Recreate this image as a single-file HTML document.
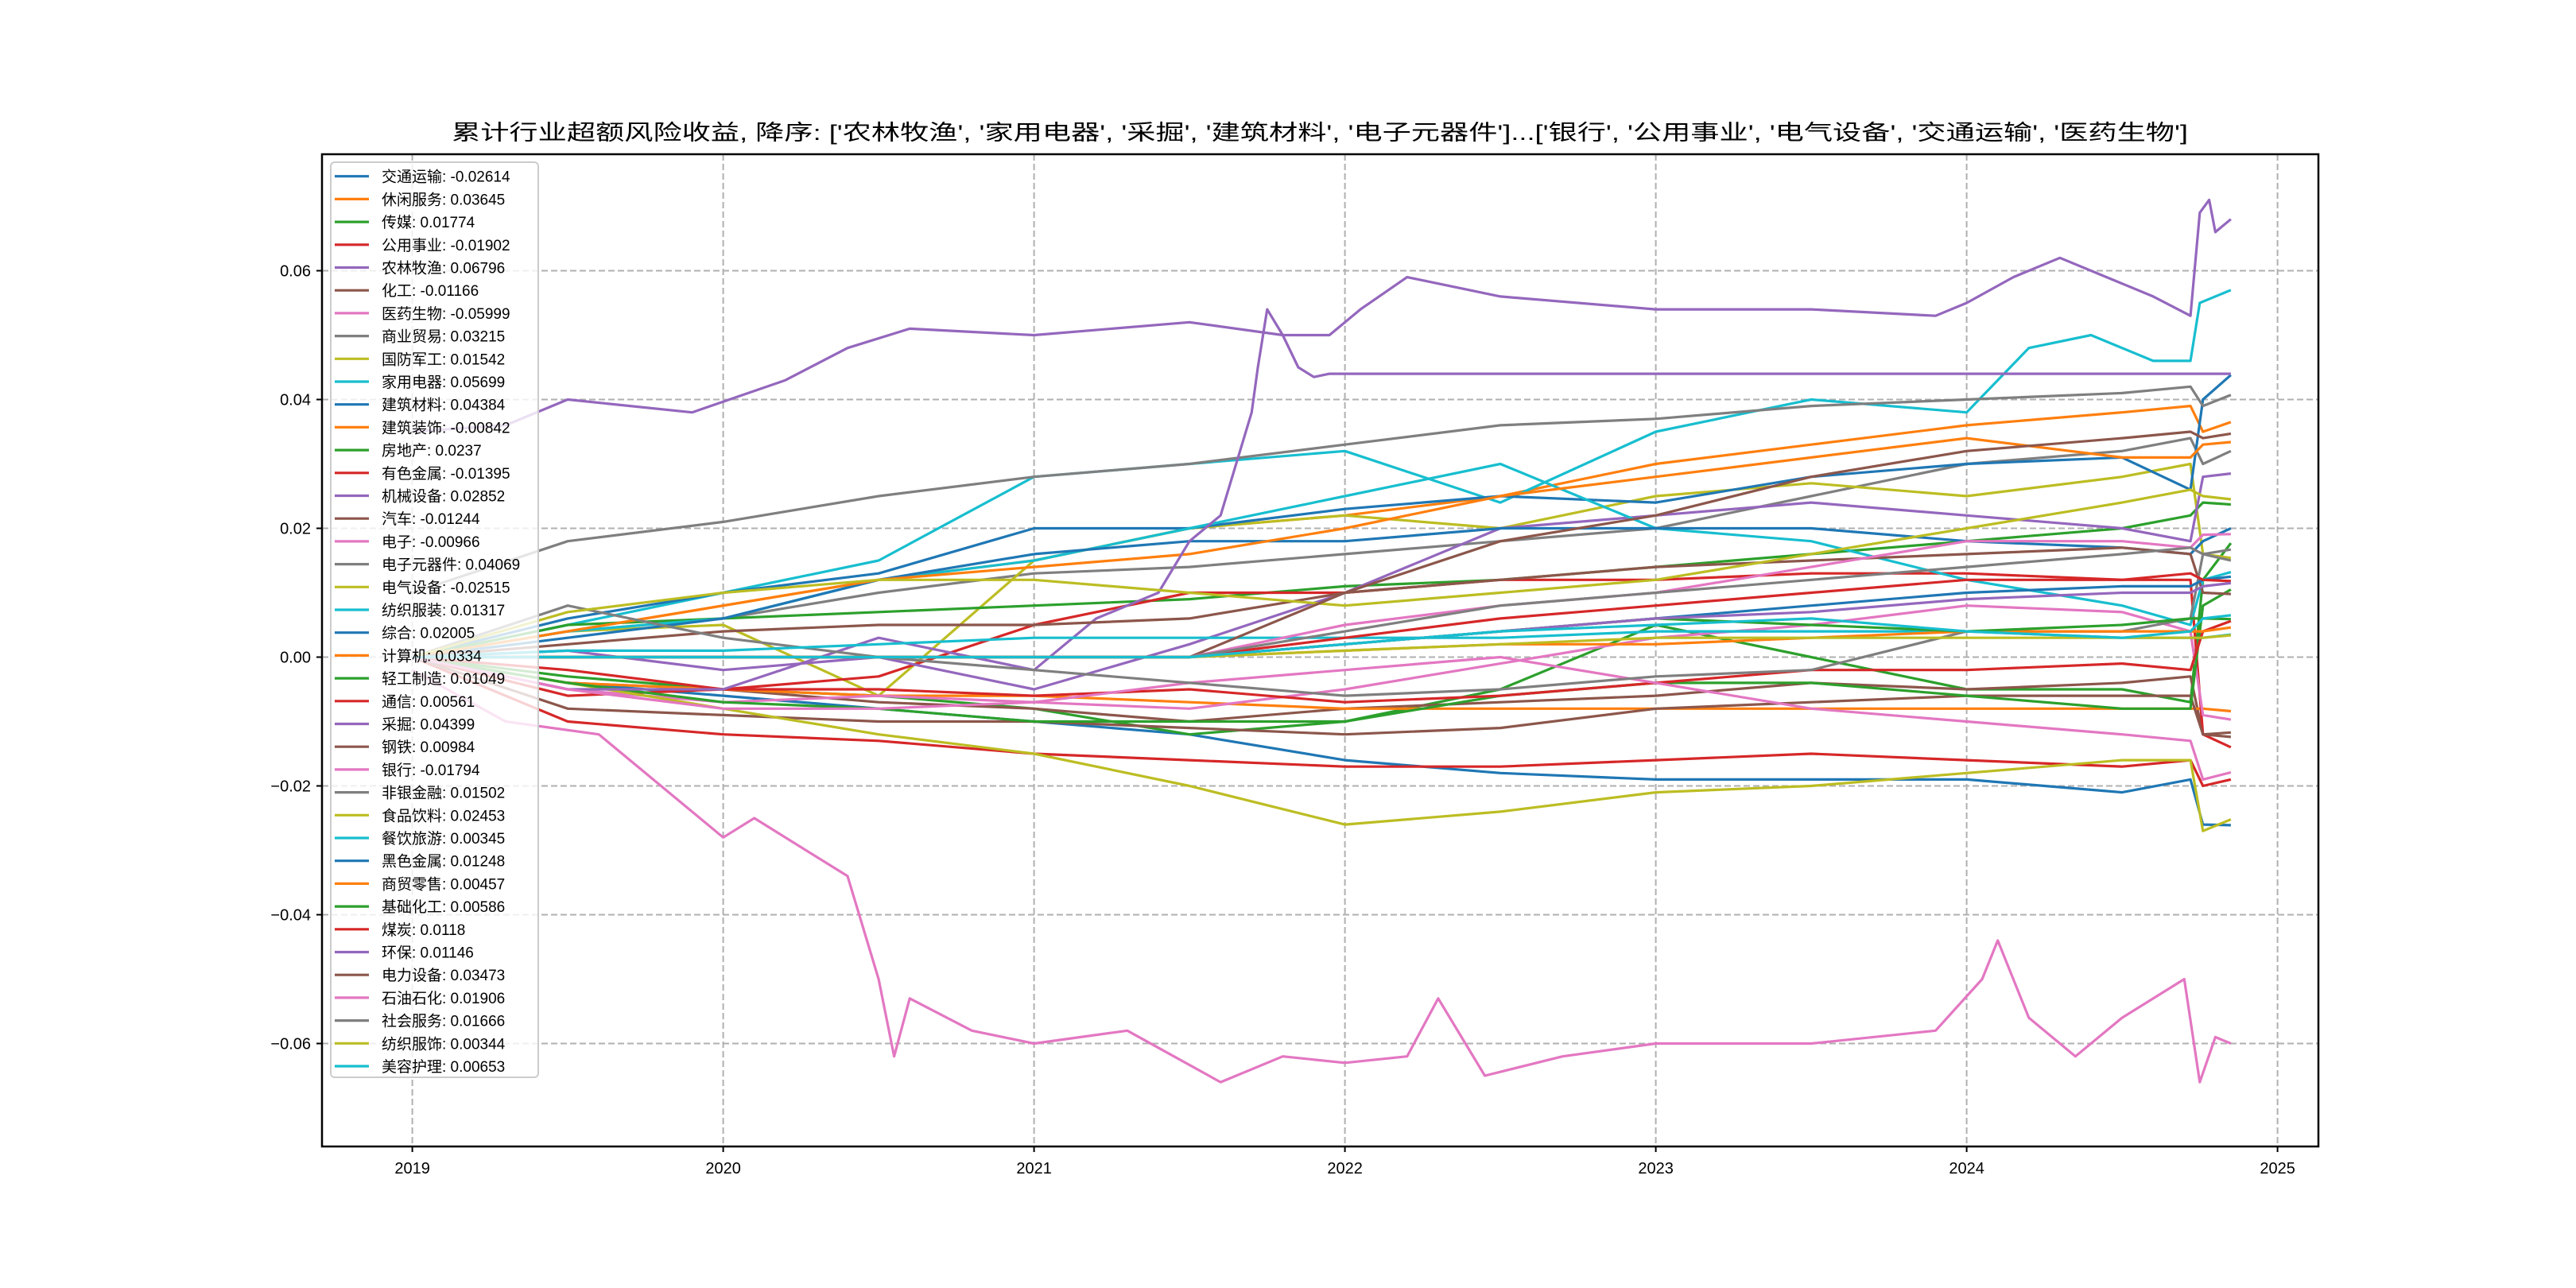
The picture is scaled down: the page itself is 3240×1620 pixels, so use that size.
<!DOCTYPE html>
<html><head><meta charset="utf-8"><style>
html,body{margin:0;padding:0;background:#fff;}
svg{display:block;font-family:"Liberation Sans","Noto Sans CJK SC","WenQuanYi Zen Hei",sans-serif;}
</style></head><body>
<svg id="chart" width="3240" height="1620" viewBox="0 0 3240 1620" xmlns="http://www.w3.org/2000/svg">
<rect x="0" y="0" width="3240" height="1620" fill="#fff"/>
<text x="1660" y="176" text-anchor="middle" font-size="27" textLength="2184" lengthAdjust="spacingAndGlyphs">累计行业超额风险收益,  降序: ['农林牧渔', '家用电器', '采掘', '建筑材料', '电子元器件']...['银行', '公用事业', '电气设备', '交通运输', '医药生物']</text>
<g id="grid"></g><g id="lines"></g><g id="axes"></g><g id="legend"></g>
</svg>
<script>
const names = ['交通运输','休闲服务','传媒','公用事业','农林牧渔','化工','医药生物','商业贸易','国防军工','家用电器','建筑材料','建筑装饰','房地产','有色金属','机械设备','汽车','电子','电子元器件','电气设备','纺织服装','综合','计算机','轻工制造','通信','采掘','钢铁','银行','非银金融','食品饮料','餐饮旅游','黑色金属','商贸零售','基础化工','煤炭','环保','电力设备','石油石化','社会服务','纺织服饰','美容护理'];
const finals = ['-0.02614','0.03645','0.01774','-0.01902','0.06796','-0.01166','-0.05999','0.03215','0.01542','0.05699','0.04384','-0.00842','0.0237','-0.01395','0.02852','-0.01244','-0.00966','0.04069','-0.02515','0.01317','0.02005','0.0334','0.01049','0.00561','0.04399','0.00984','-0.01794','0.01502','0.02453','0.00345','0.01248','0.00457','0.00586','0.0118','0.01146','0.03473','0.01906','0.01666','0.00344','0.00653'];
const yTicks = [-0.06,-0.04,-0.02,0,0.02,0.04,0.06];
const yTickLabels = ['−0.06','−0.04','−0.02','0.00','0.02','0.04','0.06'];
const xTicks = [2019,2020,2021,2022,2023,2024,2025];
const T = [2019.0,2019.5,2020.0,2020.5,2021.0,2021.5,2022.0,2022.5,2023.0,2023.5,2024.0,2024.5,2024.72,2024.76,2024.85];
const tAgri = [2019.0,2019.3,2019.5,2019.9,2020.2,2020.4,2020.6,2021.0,2021.5,2021.8,2021.95,2022.05,2022.2,2022.5,2023.0,2023.5,2023.9,2024.0,2024.15,2024.3,2024.45,2024.6,2024.72,2024.75,2024.78,2024.8,2024.85];
const vAgri = [0.035,0.036,0.04,0.038,0.043,0.048,0.051,0.05,0.052,0.05,0.05,0.054,0.059,0.056,0.054,0.054,0.053,0.055,0.059,0.062,0.059,0.056,0.053,0.069,0.071,0.066,0.068];
const tMed = [2019.0,2019.3,2019.6,2020.0,2020.1,2020.4,2020.5,2020.55,2020.6,2020.8,2021.0,2021.3,2021.6,2021.8,2022.0,2022.2,2022.3,2022.45,2022.7,2023.0,2023.5,2023.9,2024.05,2024.1,2024.2,2024.35,2024.5,2024.7,2024.75,2024.8,2024.85];
const vMed = [-0.002,-0.01,-0.012,-0.028,-0.025,-0.034,-0.05,-0.062,-0.053,-0.058,-0.06,-0.058,-0.066,-0.062,-0.063,-0.062,-0.053,-0.065,-0.062,-0.06,-0.06,-0.058,-0.05,-0.044,-0.056,-0.062,-0.056,-0.05,-0.066,-0.059,-0.06];
const tMine = [2019.0,2019.5,2020.0,2020.5,2021.0,2021.2,2021.4,2021.5,2021.6,2021.7,2021.72,2021.75,2021.8,2021.85,2021.9,2021.95,2024.85];
const vMine = [0.0,-0.005,-0.005,0.003,-0.002,0.006,0.01,0.018,0.022,0.038,0.045,0.054,0.05,0.045,0.0435,0.044,0.044];
const tHome = [2019.0,2019.5,2020.0,2020.5,2021.0,2021.5,2022.0,2022.5,2023.0,2023.5,2024.0,2024.2,2024.4,2024.6,2024.72,2024.75,2024.85];
const vHome = [0.0,0.005,0.01,0.015,0.028,0.03,0.032,0.024,0.035,0.04,0.038,0.048,0.05,0.046,0.046,0.055,0.057];
const v0=[0,-0.004,-0.006,-0.008,-0.01,-0.012,-0.016,-0.018,-0.019,-0.019,-0.019,-0.021,-0.019,-0.026,-0.0261];
const v1=[0,0.004,0.008,0.012,0.015,0.02,0.022,0.025,0.03,0.033,0.036,0.038,0.039,0.035,0.0365];
const v2=[0,-0.003,-0.005,-0.006,-0.008,-0.012,-0.01,-0.005,0.005,0.0,-0.005,-0.005,-0.007,0.012,0.0177];
const v3=[0,-0.01,-0.012,-0.013,-0.015,-0.016,-0.017,-0.017,-0.016,-0.015,-0.016,-0.017,-0.016,-0.02,-0.019];
const v5=[0,-0.004,-0.005,-0.007,-0.008,-0.01,-0.008,-0.007,-0.006,-0.004,-0.005,-0.004,-0.003,-0.012,-0.0117];
const v7=[0,0.004,0.006,0.01,0.013,0.014,0.016,0.018,0.02,0.025,0.03,0.032,0.034,0.03,0.032];
const v8=[0,0.004,0.005,-0.006,0.015,0.02,0.022,0.02,0.025,0.027,0.025,0.028,0.03,0.016,0.0154];
const v10=[0,0.006,0.01,0.013,0.02,0.02,0.023,0.025,0.024,0.028,0.03,0.031,0.026,0.04,0.0438];
const v11=[0,-0.004,-0.005,-0.006,-0.006,-0.007,-0.008,-0.008,-0.008,-0.008,-0.008,-0.008,-0.008,-0.008,-0.0084];
const v12=[0,0.005,0.006,0.007,0.008,0.009,0.011,0.012,0.014,0.016,0.018,0.02,0.022,0.024,0.0237];
const v13=[0,-0.006,-0.005,-0.003,0.005,0.01,0.01,0.012,0.012,0.013,0.013,0.012,0.012,-0.012,-0.014];
const v14=[0,0.001,-0.002,0.0,-0.005,0.002,0.01,0.02,0.022,0.024,0.022,0.02,0.018,0.028,0.0285];
const v15=[0,-0.008,-0.009,-0.01,-0.01,-0.011,-0.012,-0.011,-0.008,-0.007,-0.006,-0.006,-0.006,-0.012,-0.0124];
const v16=[0,-0.005,-0.007,-0.006,-0.007,-0.008,-0.005,-0.001,0.003,0.005,0.008,0.007,0.004,-0.009,-0.0097];
const v17=[0.01,0.018,0.021,0.025,0.028,0.03,0.033,0.036,0.037,0.039,0.04,0.041,0.042,0.039,0.0407];
const v18=[0,-0.004,-0.008,-0.012,-0.015,-0.02,-0.026,-0.024,-0.021,-0.02,-0.018,-0.016,-0.016,-0.027,-0.0252];
const v19=[0,0.004,0.006,0.012,0.015,0.02,0.025,0.03,0.02,0.018,0.012,0.008,0.005,0.012,0.0132];
const v20=[0,0.003,0.006,0.012,0.016,0.018,0.018,0.02,0.02,0.02,0.018,0.017,0.016,0.018,0.02];
const v21=[0,0.004,0.008,0.012,0.014,0.016,0.02,0.025,0.028,0.031,0.034,0.031,0.031,0.033,0.0334];
const v22=[0,-0.004,-0.007,-0.008,-0.01,-0.01,-0.01,-0.006,-0.004,-0.004,-0.006,-0.008,-0.008,0.008,0.0105];
const v23=[0,-0.002,-0.005,-0.005,-0.006,-0.005,-0.007,-0.006,-0.004,-0.002,-0.002,-0.001,-0.002,0.004,0.0056];
const v25=[0,0.002,0.004,0.005,0.005,0.006,0.01,0.012,0.014,0.015,0.016,0.017,0.016,0.01,0.0098];
const v26=[0,-0.005,-0.008,-0.008,-0.007,-0.004,-0.002,0.0,-0.004,-0.008,-0.01,-0.012,-0.013,-0.019,-0.0179];
const v27=[0,0.008,0.003,0.0,-0.002,-0.004,-0.006,-0.005,-0.003,-0.002,0.004,0.004,0.006,0.016,0.015];
const v28=[0,0.007,0.01,0.012,0.012,0.01,0.008,0.01,0.012,0.016,0.02,0.024,0.026,0.025,0.0245];
const v29=[0,0.001,0.001,0.002,0.003,0.003,0.003,0.003,0.004,0.004,0.004,0.003,0.003,0.003,0.0035];
const v30=[0,0,0,0,0,0,0.002,0.004,0.006,0.008,0.01,0.011,0.011,0.012,0.0125];
const v31=[0,0,0,0,0,0,0.001,0.002,0.002,0.003,0.004,0.004,0.004,0.004,0.0046];
const v32=[0,0,0,0,0,0,0.002,0.004,0.006,0.005,0.004,0.005,0.006,0.006,0.0059];
const v33=[0,0,0,0,0,0,0.003,0.006,0.008,0.01,0.012,0.012,0.013,0.012,0.0118];
const v34=[0,0,0,0,0,0,0.002,0.004,0.006,0.007,0.009,0.01,0.01,0.011,0.0115];
const v35=[0,0,0,0,0,0,0.01,0.018,0.022,0.028,0.032,0.034,0.035,0.034,0.0347];
const v36=[0,0,0,0,0,0,0.005,0.008,0.01,0.014,0.018,0.018,0.017,0.019,0.0191];
const v37=[0,0,0,0,0,0,0.004,0.008,0.01,0.012,0.014,0.016,0.017,0.016,0.0167];
const v38=[0,0,0,0,0,0,0.001,0.002,0.003,0.003,0.003,0.003,0.003,0.003,0.0034];
const v39=[0,0,0,0,0,0,0.002,0.004,0.005,0.006,0.004,0.003,0.004,0.006,0.0065];

const seriesT = [T,T,T,T,tAgri,T,tMed,T,T,tHome,T,T,T,T,T,T,T,T,T,T,T,T,T,T,tMine,T,T,T,T,T,T,T,T,T,T,T,T,T,T,T];
const seriesV = [v0,v1,v2,v3,vAgri,v5,vMed,v7,v8,vHome,v10,v11,v12,v13,v14,v15,v16,v17,v18,v19,v20,v21,v22,v23,vMine,v25,v26,v27,v28,v29,v30,v31,v32,v33,v34,v35,v36,v37,v38,v39];
const palette = ['#1f77b4','#ff7f0e','#2ca02c','#d62728','#9467bd','#8c564b','#e377c2','#7f7f7f','#bcbd22','#17becf'];

const L=405,R=2916,TOP=194,BOT=1442;
function xs(t){return 518.6+(t-2019)*391;}
function ys(v){return 826.5-v*8100;}
const NS='http://www.w3.org/2000/svg';
function mk(tag,attrs,parent){const e=document.createElementNS(NS,tag);for(const k in attrs)e.setAttribute(k,attrs[k]);parent.appendChild(e);return e;}
const grid=document.getElementById('grid'),lines=document.getElementById('lines'),axes=document.getElementById('axes'),leg=document.getElementById('legend');

yTicks.forEach((v,i)=>{
  const g=mk('line',{x1:L,x2:R,y1:ys(v),y2:ys(v),stroke:'#b0b0b0','stroke-width':2,'stroke-dasharray':'8,4'},grid);
  
  
  mk('line',{x1:L-7,x2:L,y1:ys(v),y2:ys(v),stroke:'#000','stroke-width':2},axes);
  const t=mk('text',{x:L-14,y:ys(v)+7,'text-anchor':'end','font-size':20},axes);
  t.textContent=yTickLabels[i];
  
  
});
xTicks.forEach(y=>{
  const g=mk('line',{x1:xs(y),x2:xs(y),y1:TOP,y2:BOT,stroke:'#b0b0b0','stroke-width':2,'stroke-dasharray':'8,4'},grid);
  
  
  mk('line',{x1:xs(y),x2:xs(y),y1:BOT,y2:BOT+7,stroke:'#000','stroke-width':2},axes);
  const t=mk('text',{x:xs(y),y:BOT+34,'text-anchor':'middle','font-size':20},axes);
  t.textContent=String(y);
  
  
});
const frame=mk('rect',{x:L,y:TOP,width:R-L,height:BOT-TOP,fill:'none',stroke:'#000','stroke-width':2.5},axes);



seriesV.forEach((vals,i)=>{
  const ts=seriesT[i];
  const pts=vals.map((v,j)=>xs(ts[j]).toFixed(1)+','+ys(v).toFixed(1)).join(' ');
  const p=mk('polyline',{points:pts,fill:'none',stroke:palette[i%10],'stroke-width':3.2,'stroke-linejoin':'round'},lines);
  
  
});

const lb=mk('rect',{x:416,y:204,width:261,height:1151,rx:5,fill:'#fff','fill-opacity':0.8,stroke:'#cccccc','stroke-width':2},leg);


names.forEach((n,i)=>{
  const cy=221.7+i*28.7;
  const g=mk('g',{},leg);
  
  
  mk('line',{x1:421,x2:464,y1:cy,y2:cy,stroke:palette[i%10],'stroke-width':3.2},g);
  const t=mk('text',{x:480,y:cy+7,'font-size':19},g);
  t.textContent=n+': '+finals[i];
});
</script>
</body></html>
